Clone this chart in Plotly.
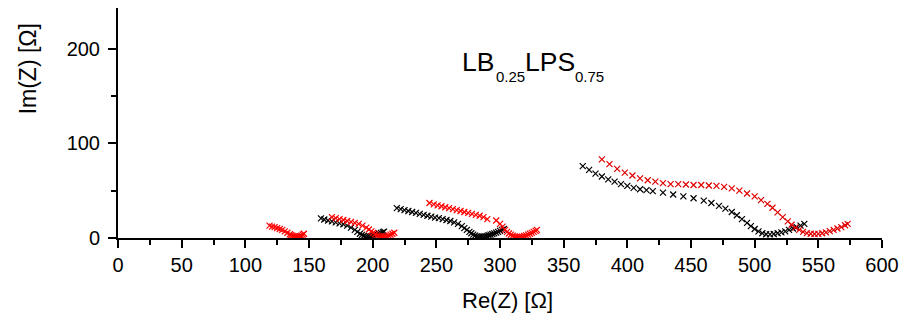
import plotly.graph_objects as go

# Nyquist spectra: real part (Ohm) and negative imaginary part (Ohm)
re_r1 = [119, 121, 123, 125, 127, 129, 131, 133, 135, 136, 137, 138, 139, 140, 141, 142, 143, 144, 145, 146,
         137.5, 138.5, 139.5, 140.5, 141.5, 142.5, 143.5]
im_r1 = [13, 12, 11.5, 10.5, 9.5, 8.5, 7, 5.5, 4, 3, 2.4, 1.8, 1.3, 1.0, 1.0, 1.2, 1.7, 2.5, 3.5, 4.5,
         1.2, 0.8, 0.6, 0.5, 0.6, 1.0, 1.5]

re_b2 = [159.4, 162, 165, 168, 171, 174, 177, 180, 183, 186, 188, 190, 191.5, 193, 194.5, 196, 197.5, 199,
         200.5, 202, 203.5, 205, 206.5, 208, 209]
im_b2 = [20.8, 19.5, 18.5, 17.5, 16.5, 15.5, 14.5, 13, 11, 8.5, 6.5, 4.5, 3.3, 2.3, 1.6, 1.4, 1.6, 2.0,
         2.6, 3.2, 3.8, 4.5, 5.3, 6.1, 6.8]

re_r2 = [168, 171, 174, 177, 180, 183, 186, 189, 192, 195, 197, 199, 200.5, 202, 203.5, 205, 206.5, 208,
         209.5, 211, 212.5, 214, 215.5, 217]
im_r2 = [22, 21, 20, 19, 18, 17, 16, 15, 13, 11, 9, 7, 5.5, 4, 2.8, 2.0, 1.4, 1.2, 1.3, 1.8, 2.6, 3.5,
         4.5, 5.5]

re_b3 = [219, 222, 225, 228, 231, 234, 237, 240, 243, 246, 249, 252, 255, 258, 261, 264, 267, 270, 272,
         274, 276, 277.5, 279, 280.5, 282, 283.5, 285, 286.5, 288, 289.5, 291, 292.5, 294, 295.5, 297,
         298.5, 300, 301.5, 303]
im_b3 = [31.5, 30.5, 29.5, 28.5, 27.5, 26.5, 25.5, 24.5, 23.5, 22.5, 21.5, 21, 20, 19, 18, 16.5, 15, 12.5,
         10.5, 8.5, 6.5, 5, 3.6, 2.5, 1.8, 1.3, 1.2, 1.4, 1.8, 2.3, 2.9, 3.5, 4.2, 4.9, 5.7, 6.5, 7.5,
         8.5, 9.5]

re_r3 = [244.6, 248, 251, 254, 257, 260, 263, 266, 269, 272, 275, 278, 281, 284, 287, 290, 297, 300, 302,
         304, 305.5, 307, 308.5, 310, 311.5, 313, 314.5, 316, 317.5, 319, 320.5, 322, 323.5, 325, 326.5,
         328, 329]
im_r3 = [37, 35.5, 34.5, 33.5, 32.5, 31.5, 30.5, 29.5, 28.5, 27.5, 26.5, 25.5, 24.5, 23.5, 22, 20, 18.5,
         15, 12, 8.5, 6.5, 4.8, 3.5, 2.5, 1.7, 1.2, 1.0, 1.1, 1.5, 2.1, 2.8, 3.6, 4.5, 5.4, 6.4, 7.5, 8.5]

re_b4 = [365, 370, 375, 380, 385, 390, 395, 400, 405, 410, 415, 420, 428, 436, 444, 452, 460, 466, 472,
         477, 482, 486, 490, 494, 497, 500, 503, 506, 509, 512, 515, 518, 521, 524, 527, 530, 533, 536,
         539]
im_b4 = [76, 72, 68, 65, 62, 59.5, 57, 55, 53, 51.5, 50.5, 49.5, 48, 46, 44, 42, 39.5, 37, 34, 31, 27.5,
         24, 20, 16, 12.5, 9.5, 7, 5, 4, 3.8, 4.2, 5, 6, 7, 8.5, 10, 11.5, 13, 15]

re_r4 = [380, 386, 392, 398, 404, 410, 416, 422, 428, 434, 440, 446, 452, 458, 464, 470, 476, 482, 488,
         494, 500, 505, 510, 514, 518, 522, 526, 529, 532, 535, 538, 541, 544, 547, 550, 553, 556, 559,
         562, 565, 568, 571, 573]
im_r4 = [83, 78, 73, 69, 66, 63, 61, 59.5, 58, 57, 57, 56.5, 56, 56, 55.5, 55, 54, 52.5, 50, 47, 44,
         40, 36, 32, 27, 22, 17.5, 14, 11, 8.5, 6.5, 5.2, 4.5, 4.2, 4.4, 5, 6, 7.2, 8.5, 10, 11.5, 13.5, 15]

series = [
    ("Set 1 (2)", re_r1, im_r1, "#ff0000"),
    ("Set 2 (1)", re_b2, im_b2, "#000000"),
    ("Set 2 (2)", re_r2, im_r2, "#ff0000"),
    ("Set 3 (1)", re_b3, im_b3, "#000000"),
    ("Set 3 (2)", re_r3, im_r3, "#ff0000"),
    ("Set 4 (1)", re_b4, im_b4, "#000000"),
    ("Set 4 (2)", re_r4, im_r4, "#e00000"),
]

FONT = "Liberation Sans, Arial, sans-serif"

fig = go.Figure()
for name, xs, ys, col in series:
    fig.add_trace(go.Scatter(
        x=xs, y=ys, mode="markers", name=name,
        marker=dict(symbol="x-thin", size=6, color=col, line=dict(color=col, width=1.2)),
    ))

axis_common = dict(
    showline=True, linewidth=2, linecolor="black",
    ticks="outside", ticklen=8, tickwidth=2, tickcolor="black",
    showgrid=False, zeroline=False, mirror=False,
    tickfont=dict(family=FONT, size=20, color="black"),
)

fig.update_xaxes(range=[0, 600], tick0=0, dtick=50,
                 minor=dict(ticks="outside", ticklen=5, tickwidth=2, dtick=25, tickcolor="black"),
                 **axis_common)
fig.update_yaxes(range=[0, 243], tick0=0, dtick=100, ticklabelstandoff=4,
                 minor=dict(ticks="outside", ticklen=5, tickwidth=2, dtick=50, tickcolor="black"),
                 **axis_common)

# plot area spans x 118..885 px and y 8..238 px
def px_x(p):
    return (p - 118) / 767

def px_y(p):
    return (238 - p) / 230

# compound label LB(0.25)LPS(0.75), main letters and lowered subscripts
label_parts = [
    ("LB", 463, 62, 26.5),
    ("0.25", 497, 76.5, 15),
    ("LPS", 527, 62, 26.5),
    ("0.75", 577, 76.5, 15),
]
for txt, left, mid, size in label_parts:
    fig.add_annotation(
        text=txt, xref="paper", yref="paper", x=px_x(left), y=px_y(mid),
        xanchor="left", yanchor="middle", borderpad=0, borderwidth=0,
        showarrow=False, font=dict(family=FONT, size=size, color="black"),
    )

fig.add_annotation(
    text="Re(Z) [Ω]", xref="paper", yref="paper", x=px_x(509), y=px_y(300),
    xanchor="center", yanchor="middle",
    showarrow=False, font=dict(family=FONT, size=22, color="black"),
)
fig.add_annotation(
    text="Im(Z) [Ω]", xref="paper", yref="paper", x=px_x(28), y=px_y(69),
    xanchor="center", yanchor="middle",
    showarrow=False, textangle=-90, font=dict(family=FONT, size=23, color="black"),
)

fig.update_layout(
    width=907, height=329,
    margin=dict(l=118, r=22, t=8, b=91),
    plot_bgcolor="white", paper_bgcolor="white",
    showlegend=False,
)

fig.write_html("out.html")
